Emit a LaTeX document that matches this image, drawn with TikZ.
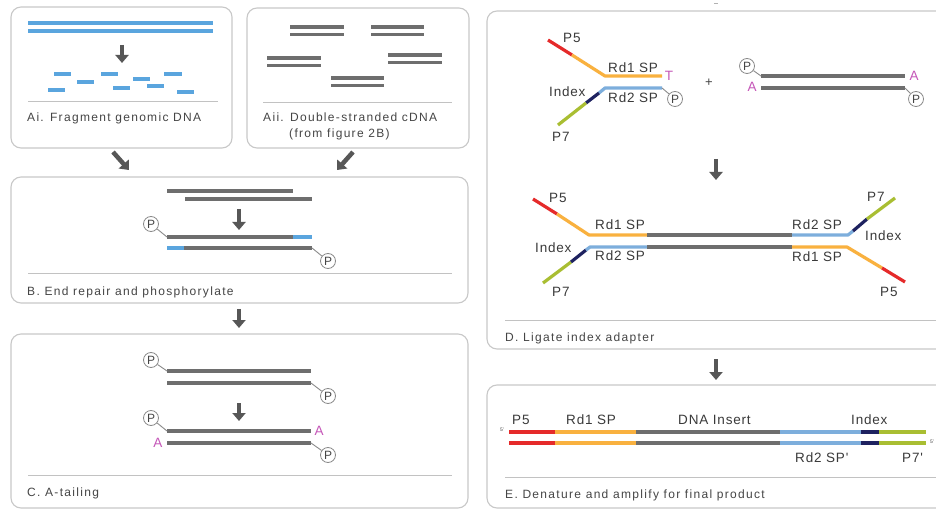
\documentclass[tikz,border=0pt]{standalone}
\usepackage{fontspec}
\setmainfont{Liberation Sans}
\newfontfamily\capfont[LetterSpace=11]{Liberation Sans}
\newfontfamily\labfont[LetterSpace=6]{Liberation Sans}
\usetikzlibrary{arrows.meta}
\definecolor{dnablue}{HTML}{5AA5DE}
\definecolor{adblue}{HTML}{7DAEDC}
\definecolor{dnagray}{HTML}{6E6E6E}
\definecolor{adorange}{HTML}{F9B13F}
\definecolor{adred}{HTML}{E52A2A}
\definecolor{adnavy}{HTML}{1E2260}
\definecolor{adgreen}{HTML}{A9BE32}
\definecolor{tailpink}{HTML}{C556B8}
\definecolor{boxgray}{HTML}{C8C8C8}
\definecolor{sepgray}{HTML}{C2C2C2}
\definecolor{txtgray}{HTML}{454545}
\definecolor{labgray}{HTML}{3A3A3A}
\definecolor{arrgray}{HTML}{575757}
\definecolor{phgray}{HTML}{8A8A8A}
\begin{document}
\begin{tikzpicture}[x=1pt,y=-1pt,
  panelbox/.style={draw=boxgray, line width=1.1pt, rounded corners=10pt},
  sepline/.style={draw=sepgray, line width=0.9pt},
  strand/.style={line width=3.2pt, line cap=butt, line join=round},
  captext/.style={font=\capfont\fontsize{12}{14}\selectfont, text=txtgray, anchor=base west, inner sep=0pt},
  labtext/.style={font=\labfont\fontsize{13.5}{15}\selectfont, text=labgray, anchor=base west, inner sep=0pt},
  tailtext/.style={font=\labfont\fontsize{13.5}{15}\selectfont, text=tailpink, inner sep=0pt},
  phos/.style={circle, draw=phgray, fill=white, line width=0.8pt, minimum size=15pt, inner sep=0pt, font=\fontsize{12}{12}\selectfont, text=txtgray},
  stemline/.style={draw=phgray, line width=0.9pt},
  bigarrow/.style={draw=arrgray, line width=4.5pt, -{Triangle[width=13pt,length=8pt]}},
  tinytext/.style={font=\fontsize{5}{5}\selectfont, text=txtgray, inner sep=0pt}
]
\clip (0,0) rectangle (936,510);
\fill[white] (0,0) rectangle (936,510);

% ---------- panels ----------
\draw[panelbox] (11,7) rectangle (232,148);
\draw[panelbox] (247,8) rectangle (469,148);
\draw[panelbox] (11,177) rectangle (468,303);
\draw[panelbox] (11,334) rectangle (468,508);
\draw[panelbox] (487,11) rectangle (950,349);
\draw[panelbox] (487,385) rectangle (950,508);

% separators
\draw[sepline] (28,101) -- (218,101);
\draw[sepline] (263,102) -- (452,102);
\draw[sepline] (28,273) -- (452,273);
\draw[sepline] (28,475) -- (452,475);
\draw[sepline] (505,320) -- (940,320);
\draw[sepline] (505,477) -- (940,477);

% captions
\node[captext] (capAi) at (27,122) {Ai. Fragment genomic DNA};
\node[captext] (capAii) at (263,122) {Aii. Double-stranded cDNA};
\node[captext] (capAii2) at (289,138) {(from figure 2B)};
\node[captext] (capB) at (27,295) {B. End repair and phosphorylate};
\node[captext] (capC) at (27,496) {C. A-tailing};
\node[captext] (capD) at (505,341) {D. Ligate index adapter};
\node[captext] (capE) at (505,498) {E. Denature and amplify for final product};

% ---------- Ai ----------
\draw[dnablue, line width=3.6pt] (28,23) -- (213,23);
\draw[dnablue, line width=3.6pt] (28,31) -- (213,31);
\coordinate (aiA1) at (122,45); \coordinate (aiA2) at (122,63);
\draw[bigarrow] (aiA1) -- (aiA2);
\foreach \a/\b/\y in {54/71/74, 77/94/82, 48/65/90, 101/118/74, 113/130/88, 133/150/79, 147/164/86, 164/182/74, 177/194/92}
  \draw[dnablue, line width=3.2pt] (\a,\y) -- (\b,\y);

% ---------- Aii ----------
\foreach \a/\b/\y in {290/344/27, 371/424/27, 267/321/58, 388/442/55, 331/384/78}{
  \draw[dnagray, line width=3.2pt] (\a,\y) -- (\b,\y);
  \draw[dnagray, line width=3.2pt] (\a,\y+7.5) -- (\b,\y+7.5);
}

% arrows A -> B
\coordinate (abL1) at (113,152); \coordinate (abL2) at (129,170);
\draw[bigarrow] (abL1) -- (abL2);
\coordinate (abR1) at (353,152); \coordinate (abR2) at (337,170);
\draw[bigarrow] (abR1) -- (abR2);

% ---------- B ----------
\draw[strand, dnagray] (167,191) -- (293,191);
\draw[strand, dnagray] (185,199) -- (312,199);
\coordinate (bA1) at (239,209); \coordinate (bA2) at (239,230);
\draw[bigarrow] (bA1) -- (bA2);
\draw[strand, dnagray] (167,237) -- (293,237);
\draw[strand, dnablue] (293,237) -- (312,237);
\draw[strand, dnablue] (167,248) -- (184,248);
\draw[strand, dnagray] (184,248) -- (312,248);
\coordinate (bS1) at (167,237);
\coordinate (bS2) at (312,248);
\node[phos] (bP1) at (151,224) {P};
\node[phos] (bP2) at (328,261) {P};
\draw[stemline] (bP1) -- (bS1);
\draw[stemline] (bS2) -- (bP2);

% arrow B -> C
\coordinate (bcA1) at (239,309); \coordinate (bcA2) at (239,328);
\draw[bigarrow] (bcA1) -- (bcA2);

% ---------- C ----------
\draw[strand, dnagray] (167,371) -- (311,371);
\draw[strand, dnagray] (167,383) -- (311,383);
\coordinate (cS1) at (167,371); \coordinate (cS2) at (311,383);
\node[phos] (cP1) at (151,360) {P};
\node[phos] (cP2) at (328,396) {P};
\draw[stemline] (cP1) -- (cS1);
\draw[stemline] (cS2) -- (cP2);
\coordinate (cA1) at (239,403); \coordinate (cA2) at (239,421);
\draw[bigarrow] (cA1) -- (cA2);
\draw[strand, dnagray] (167,431) -- (311,431);
\draw[strand, dnagray] (167,443) -- (311,443);
\coordinate (cS3) at (167,431); \coordinate (cS4) at (311,443);
\node[phos] (cP3) at (151,418) {P};
\node[phos] (cP4) at (328,455) {P};
\draw[stemline] (cP3) -- (cS3);
\draw[stemline] (cS4) -- (cP4);
\node[tailtext] (cT1) at (319,431) {A};
\node[tailtext] (cT2) at (158,443) {A};

% ---------- D : adapter + insert ----------
\draw[adred, line width=3.2pt] (548,40) -- (572,55);
\draw[strand, adorange] (572,55) -- (605,76) -- (662,76);
\draw[strand, adblue] (662,88) -- (605,88) -- (599,93);
\draw[strand, adnavy] (599,93) -- (586,103);
\draw[strand, adgreen] (586,103) -- (558,125);
\coordinate (dS1) at (662,88);
\node[phos] (dP1) at (675,99) {P};
\draw[stemline] (dS1) -- (dP1);
\node[labtext] (dl1) at (563,43) {P5};
\node[labtext] (dl2) at (608,73) {Rd1 SP};
\node[tailtext, anchor=base] (dT) at (669,81) {T};
\node[labtext] (dl3) at (549,97) {Index};
\node[labtext] (dl4) at (608,103) {Rd2 SP};
\node[labtext] (dl5) at (552,142) {P7};
\node[font=\fontsize{13}{13}\selectfont, text=txtgray] (plus) at (709,83) {+};

\draw[strand, dnagray] (761,76) -- (905,76);
\draw[strand, dnagray] (761,88) -- (905,88);
\coordinate (dS2) at (761,76); \coordinate (dS3) at (905,88);
\node[phos] (dP2) at (747,66) {P};
\node[phos] (dP3) at (916,99) {P};
\draw[stemline] (dP2) -- (dS2);
\draw[stemline] (dS3) -- (dP3);
\node[tailtext, anchor=base] (dA1) at (914,81) {A};
\node[tailtext, anchor=base] (dA2) at (752,92) {A};

\coordinate (dA1s) at (716,159); \coordinate (dA1e) at (716,180);
\draw[bigarrow] (dA1s) -- (dA1e);

% ligated product
\draw[adred, line width=3.2pt] (533,199) -- (557,214);
\draw[strand, adorange] (557,214) -- (589,235) -- (647,235);
\draw[strand, dnagray] (647,235) -- (792,235);
\draw[strand, adblue] (792,235) -- (848,235) -- (853,231);
\draw[strand, adnavy] (853,231) -- (867,219);
\draw[adgreen, line width=3.2pt] (867,219) -- (895,198);

\draw[adgreen, line width=3.2pt] (543,283) -- (571,262);
\draw[strand, adnavy] (571,262) -- (586,250);
\draw[strand, adblue] (586,250) -- (590,247) -- (647,247);
\draw[strand, dnagray] (647,247) -- (792,247);
\draw[strand, adorange] (792,247) -- (847,247) -- (882,268);
\draw[adred, line width=3.2pt] (882,268) -- (905,282);

\node[labtext] (ll1) at (549,203) {P5};
\node[labtext] (ll2) at (595,230) {Rd1 SP};
\node[labtext] (ll3) at (535,253) {Index};
\node[labtext] (ll4) at (595,261) {Rd2 SP};
\node[labtext] (ll5) at (552,297) {P7};
\node[labtext] (lr1) at (792,230) {Rd2 SP};
\node[labtext] (lr2) at (867,202) {P7};
\node[labtext] (lr3) at (865,241) {Index};
\node[labtext] (lr4) at (792,262) {Rd1 SP};
\node[labtext] (lr5) at (880,297) {P5};

\coordinate (deA1) at (716,359); \coordinate (deA2) at (716,380);
\draw[bigarrow] (deA1) -- (deA2);

% ---------- E ----------
\foreach \y in {432,443}{
  \draw[strand, adred] (509,\y) -- (555,\y);
  \draw[strand, adorange] (555,\y) -- (636,\y);
  \draw[strand, dnagray] (636,\y) -- (780,\y);
  \draw[strand, adblue] (780,\y) -- (861,\y);
  \draw[strand, adnavy] (861,\y) -- (879,\y);
  \draw[strand, adgreen] (879,\y) -- (926,\y);
}
\node[tinytext] (e5a) at (502,430) {5'};
\node[tinytext] (e5b) at (932,442) {5'};
\node[labtext] (el1) at (512,424) {P5};
\node[labtext] (el2) at (566,424) {Rd1 SP};
\node[labtext] (el3) at (678,424) {DNA Insert};
\node[labtext] (el4) at (851,424) {Index};
\node[labtext] (el5) at (795,462) {Rd2 SP'};
\node[labtext] (el6) at (902,462) {P7'};

% small mark at top
\draw[gray!60, line width=1pt] (714,4) -- (718,4);
\end{tikzpicture}
\end{document}
